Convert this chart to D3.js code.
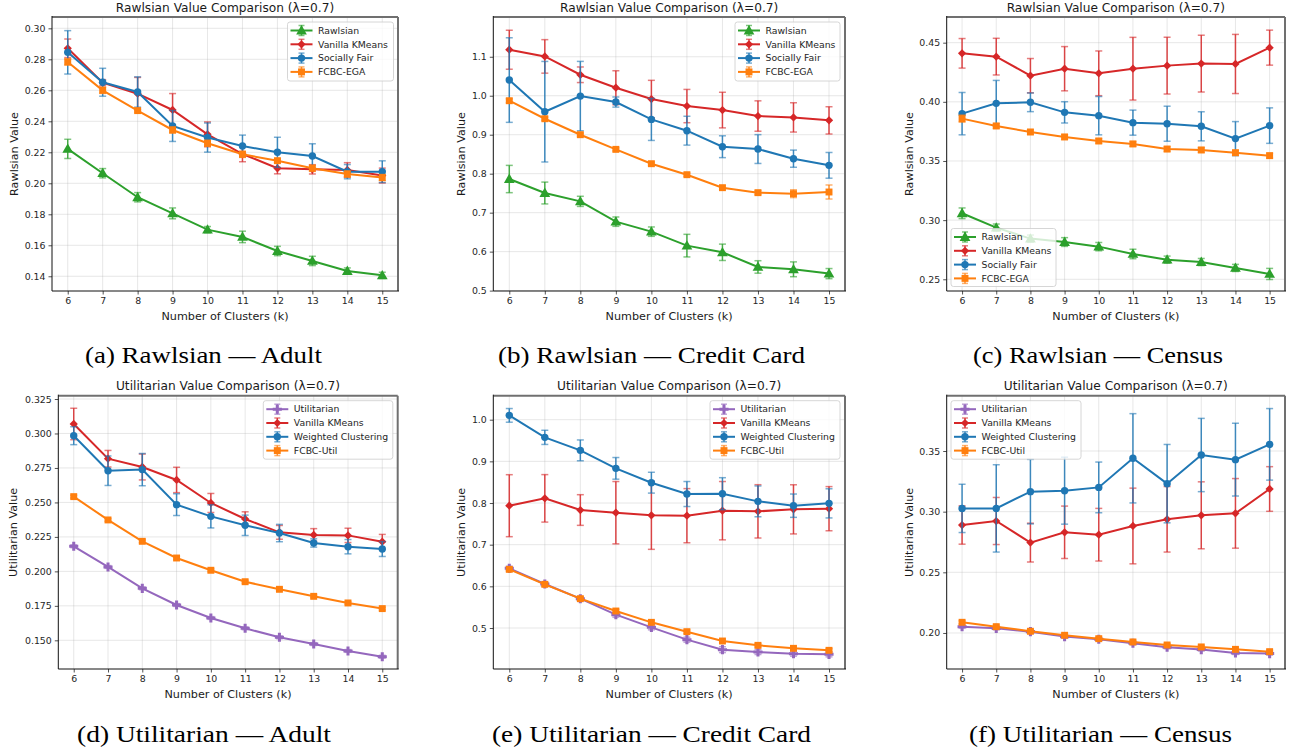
<!DOCTYPE html>
<html><head><meta charset="utf-8">
<script src="https://cdn.jsdelivr.net/npm/d3@7"></script>
<style>body{margin:0;background:#fff}text{font-family:"DejaVu Sans",sans-serif}</style>
</head><body><svg id="c" width="1296" height="748"></svg>
<script>
// ---------- DATA ----------
const ks = [6, 7, 8, 9, 10, 11, 12, 13, 14, 15];

// (a) Rawlsian — Adult
const adultR_rawlsian = [0.2222, 0.2065, 0.1910, 0.1806, 0.1701, 0.1654, 0.1563, 0.1499, 0.1434, 0.1406];
const adultR_rawlsianErr = [0.0062, 0.0030, 0.0030, 0.0035, 0.0020, 0.0037, 0.0030, 0.0030, 0.0020, 0.0020];
const adultR_vanilla = [0.2871, 0.2649, 0.2578, 0.2473, 0.2316, 0.2189, 0.2097, 0.2090, 0.2086, 0.2050];
const adultR_vanillaErr = [0.0060, 0.0020, 0.0105, 0.0106, 0.0080, 0.0050, 0.0036, 0.0030, 0.0047, 0.0048];
const adultR_fair = [0.2845, 0.2652, 0.2589, 0.2370, 0.2295, 0.2241, 0.2200, 0.2176, 0.2075, 0.2075];
const adultR_fairErr = [0.0140, 0.0090, 0.0098, 0.0100, 0.0094, 0.0070, 0.0097, 0.0079, 0.0046, 0.0070];
const adultR_fcbc = [0.2783, 0.2600, 0.2469, 0.2344, 0.2258, 0.2187, 0.2146, 0.2097, 0.2060, 0.2037];
const adultR_fcbcErr = [0.0020, 0.0020, 0.0010, 0.0020, 0.0020, 0.0020, 0.0010, 0.0020, 0.0020, 0.0020];

// (b) Rawlsian — Credit Card
const creditR_rawlsian = [0.7863, 0.7504, 0.7290, 0.6769, 0.6513, 0.6154, 0.5983, 0.5607, 0.5547, 0.5436];
const creditR_rawlsianErr = [0.035, 0.028, 0.013, 0.012, 0.012, 0.029, 0.021, 0.016, 0.019, 0.013];
const creditR_vanilla = [1.1180, 1.1009, 1.0538, 1.0205, 0.9915, 0.9735, 0.9632, 0.9479, 0.9444, 0.9368];
const creditR_vanillaErr = [0.050, 0.043, 0.020, 0.0436, 0.048, 0.0427, 0.0457, 0.039, 0.0376, 0.035];
const creditR_fair = [1.0402, 0.9590, 0.9991, 0.9838, 0.9393, 0.9103, 0.8692, 0.8632, 0.8385, 0.8214];
const creditR_fairErr = [0.1085, 0.129, 0.089, 0.013, 0.054, 0.037, 0.028, 0.037, 0.022, 0.033];
const creditR_fcbc = [0.9872, 0.9410, 0.9000, 0.8624, 0.8256, 0.7974, 0.7641, 0.7513, 0.7487, 0.7530];
const creditR_fcbcErr = [0.005, 0.004, 0.004, 0.004, 0.004, 0.004, 0.005, 0.005, 0.010, 0.018];

// (c) Rawlsian — Census
const censusR_rawlsian = [0.3058, 0.2937, 0.2844, 0.2815, 0.2776, 0.2714, 0.2666, 0.2646, 0.2596, 0.2545];
const censusR_rawlsianErr = [0.0045, 0.0030, 0.0030, 0.0037, 0.0035, 0.0040, 0.0030, 0.0030, 0.0030, 0.0047];
const censusR_vanilla = [0.4410, 0.4382, 0.4221, 0.4280, 0.4241, 0.4280, 0.4306, 0.4323, 0.4320, 0.4458];
const censusR_vanillaErr = [0.0125, 0.0155, 0.0145, 0.0187, 0.0189, 0.0265, 0.0240, 0.0240, 0.0250, 0.0148];
const censusR_fair = [0.3900, 0.3987, 0.3996, 0.3911, 0.3883, 0.3824, 0.3815, 0.3793, 0.3689, 0.3799];
const censusR_fairErr = [0.0179, 0.0194, 0.0079, 0.0090, 0.0162, 0.0106, 0.0148, 0.0123, 0.0144, 0.0150];
const censusR_fcbc = [0.3858, 0.3796, 0.3745, 0.3703, 0.3669, 0.3644, 0.3601, 0.3593, 0.3570, 0.3545];
const censusR_fcbcErr = [0.0030, 0.0020, 0.0020, 0.0020, 0.0020, 0.0020, 0.0020, 0.0020, 0.0020, 0.0020];

// (d) Utilitarian — Adult
const adultU_util = [0.2182, 0.2032, 0.1877, 0.1756, 0.1662, 0.1587, 0.1522, 0.1473, 0.1423, 0.1381];
const adultU_utilErr = [0.0010, 0.0010, 0.0010, 0.0010, 0.0010, 0.0010, 0.0010, 0.0010, 0.0010, 0.0010];
const adultU_vanilla = [0.3069, 0.2817, 0.2757, 0.2663, 0.2496, 0.2380, 0.2283, 0.2264, 0.2261, 0.2215];
const adultU_vanillaErr = [0.0114, 0.0060, 0.0094, 0.0092, 0.0069, 0.0052, 0.0050, 0.0046, 0.0052, 0.0053];
const adultU_weighted = [0.2984, 0.2730, 0.2738, 0.2484, 0.2399, 0.2334, 0.2278, 0.2206, 0.2179, 0.2162];
const adultU_weightedErr = [0.0065, 0.0107, 0.0117, 0.0079, 0.0084, 0.0074, 0.0063, 0.0030, 0.0052, 0.0054];
const adultU_fcbc = [0.2542, 0.2373, 0.2218, 0.2097, 0.2008, 0.1925, 0.1870, 0.1819, 0.1771, 0.1730];
const adultU_fcbcErr = [0.0010, 0.0010, 0.0010, 0.0010, 0.0010, 0.0010, 0.0010, 0.0010, 0.0010, 0.0010];

// (e) Utilitarian — Credit Card
const creditU_util = [0.6432, 0.6056, 0.5704, 0.5320, 0.5016, 0.4720, 0.4480, 0.4424, 0.4384, 0.4368];
const creditU_utilErr = [0.005, 0.004, 0.004, 0.006, 0.006, 0.006, 0.007, 0.006, 0.006, 0.006];
const creditU_vanilla = [0.7936, 0.8112, 0.7832, 0.7768, 0.7704, 0.7696, 0.7816, 0.7800, 0.7848, 0.7864];
const creditU_vanillaErr = [0.0744, 0.057, 0.0368, 0.0748, 0.0816, 0.065, 0.070, 0.064, 0.059, 0.053];
const creditU_weighted = [1.0104, 0.9576, 0.9264, 0.8832, 0.8488, 0.8216, 0.8224, 0.8040, 0.7936, 0.7992];
const creditU_weightedErr = [0.0164, 0.017, 0.025, 0.026, 0.025, 0.030, 0.0384, 0.037, 0.028, 0.035];
const creditU_fcbc = [0.6408, 0.6048, 0.5704, 0.5408, 0.5136, 0.4912, 0.4688, 0.4584, 0.4512, 0.4464];
const creditU_fcbcErr = [0.004, 0.004, 0.004, 0.004, 0.004, 0.004, 0.004, 0.004, 0.004, 0.004];

// (f) Utilitarian — Census
const censusU_util = [0.2052, 0.2038, 0.2011, 0.1970, 0.1948, 0.1915, 0.1882, 0.1863, 0.1835, 0.1830];
const censusU_utilErr = [0.0012, 0.0012, 0.0012, 0.0012, 0.0012, 0.0012, 0.0012, 0.0012, 0.0012, 0.0012];
const censusU_vanilla = [0.2890, 0.2923, 0.2745, 0.2830, 0.2810, 0.2882, 0.2937, 0.2970, 0.2986, 0.3187];
const censusU_vanillaErr = [0.0158, 0.0194, 0.0160, 0.0216, 0.0217, 0.0312, 0.0270, 0.0276, 0.0287, 0.0184];
const censusU_weighted = [0.3027, 0.3027, 0.3165, 0.3173, 0.3200, 0.3440, 0.3231, 0.3467, 0.3429, 0.3555];
const censusU_weightedErr = [0.0199, 0.0360, 0.0266, 0.0276, 0.0209, 0.0368, 0.0323, 0.0302, 0.0300, 0.0295];
const censusU_fcbc = [0.2088, 0.2052, 0.2014, 0.1981, 0.1953, 0.1926, 0.1901, 0.1885, 0.1865, 0.1846];
const censusU_fcbcErr = [0.0012, 0.0012, 0.0012, 0.0012, 0.0012, 0.0012, 0.0012, 0.0012, 0.0012, 0.0012];

// Tick labels
const yTicksA = [0.14, 0.16, 0.18, 0.20, 0.22, 0.24, 0.26, 0.28, 0.30];
const yTicksB = [0.5, 0.6, 0.7, 0.8, 0.9, 1.0, 1.1];
const yTicksC = [0.25, 0.30, 0.35, 0.40, 0.45];
const yTicksD = [0.150, 0.175, 0.200, 0.225, 0.250, 0.275, 0.300, 0.325];
const yTicksE = [0.5, 0.6, 0.7, 0.8, 0.9, 1.0];
const yTicksF = [0.20, 0.25, 0.30, 0.35];

const rawlsNames = ["Rawlsian", "Vanilla KMeans", "Socially Fair", "FCBC-EGA"];
const utilNames = ["Utilitarian", "Vanilla KMeans", "Weighted Clustering", "FCBC-Util"];
const captions = ["(a) Rawlsian — Adult", "(b) Rawlsian — Credit Card", "(c) Rawlsian — Census",
                  "(d) Utilitarian — Adult", "(e) Utilitarian — Credit Card", "(f) Utilitarian — Census"];

// ---------- STYLE / LAYOUT ----------
const C = {blue:"#1f77b4", orange:"#ff7f0e", green:"#2ca02c", red:"#d62728", purple:"#9467bd"};
const rawlsStyle = [{c:C.green, m:"tri"}, {c:C.red, m:"dia"}, {c:C.blue, m:"cir"}, {c:C.orange, m:"sq"}];
const utilStyle  = [{c:C.purple, m:"plus"}, {c:C.red, m:"dia"}, {c:C.blue, m:"cir"}, {c:C.orange, m:"sq"}];

const panels = [
  {x0:52, x1:398, y0:17, y1:291, yd:[0.1305,0.3073], ticks:yTicksA, fmt:".2f", title:"Rawlsian Value Comparison (λ=0.7)", ylab:"Rawlsian Value", ylx:14,
   names:rawlsNames, style:rawlsStyle, cap:captions[0], capx:203.5, capw:237,
   series:[[adultR_rawlsian,adultR_rawlsianErr],[adultR_vanilla,adultR_vanillaErr],[adultR_fair,adultR_fairErr],[adultR_fcbc,adultR_fcbcErr]],
   leg:{x:287.5, y:22, w:106, h:59}},
  {x0:493.3, x1:845, y0:17, y1:291, yd:[0.499,1.202], ticks:yTicksB, fmt:".1f", title:"Rawlsian Value Comparison (λ=0.7)", ylab:"Rawlsian Value", ylx:461.5,
   names:rawlsNames, style:rawlsStyle, cap:captions[1], capx:651.5, capw:307,
   series:[[creditR_rawlsian,creditR_rawlsianErr],[creditR_vanilla,creditR_vanillaErr],[creditR_fair,creditR_fairErr],[creditR_fcbc,creditR_fcbcErr]],
   leg:{x:735, y:22, w:105, h:59}},
  {x0:946.7, x1:1285, y0:17, y1:291, yd:[0.2401,0.4717], ticks:yTicksC, fmt:".2f", title:"Rawlsian Value Comparison (λ=0.7)", ylab:"Rawlsian Value", ylx:909,
   names:rawlsNames, style:rawlsStyle, cap:captions[2], capx:1098, capw:250,
   series:[[censusR_rawlsian,censusR_rawlsianErr],[censusR_vanilla,censusR_vanillaErr],[censusR_fair,censusR_fairErr],[censusR_fcbc,censusR_fcbcErr]],
   leg:{x:951, y:228.5, w:105, h:58}},
  {x0:58.3, x1:397.7, y0:395.7, y1:669, yd:[0.1292,0.3274], ticks:yTicksD, fmt:".3f", title:"Utilitarian Value Comparison (λ=0.7)", ylab:"Utilitarian Value", ylx:13.5,
   names:utilNames, style:utilStyle, cap:captions[3], capx:204, capw:254,
   series:[[adultU_util,adultU_utilErr],[adultU_vanilla,adultU_vanillaErr],[adultU_weighted,adultU_weightedErr],[adultU_fcbc,adultU_fcbcErr]],
   leg:{x:263.3, y:400.7, w:129.5, h:58.5}},
  {x0:493.3, x1:845, y0:395.7, y1:669, yd:[0.4016,1.0576], ticks:yTicksE, fmt:".1f", title:"Utilitarian Value Comparison (λ=0.7)", ylab:"Utilitarian Value", ylx:461.5,
   names:utilNames, style:utilStyle, cap:captions[4], capx:651.5, capw:319,
   series:[[creditU_util,creditU_utilErr],[creditU_vanilla,creditU_vanillaErr],[creditU_weighted,creditU_weightedErr],[creditU_fcbc,creditU_fcbcErr]],
   leg:{x:710, y:400.7, w:130, h:58.5}},
  {x0:946.7, x1:1285, y0:395.7, y1:669, yd:[0.1703,0.3956], ticks:yTicksF, fmt:".2f", title:"Utilitarian Value Comparison (λ=0.7)", ylab:"Utilitarian Value", ylx:909,
   names:utilNames, style:utilStyle, cap:captions[5], capx:1100.5, capw:263,
   series:[[censusU_util,censusU_utilErr],[censusU_vanilla,censusU_vanillaErr],[censusU_weighted,censusU_weightedErr],[censusU_fcbc,censusU_fcbcErr]],
   leg:{x:951, y:400.7, w:130, h:58.5}}
];

const svg = d3.select("#c");

function marker(g, type, x, y, color) {
  let s;
  if (type === "tri") s = g.append("path").attr("d", d3.symbol(d3.symbolTriangle, 50)()).attr("transform", `translate(${x},${y+0.8})`);
  else if (type === "dia") s = g.append("path").attr("d", d3.symbol(d3.symbolSquare, 34)()).attr("transform", `translate(${x},${y}) rotate(45)`);
  else if (type === "cir") s = g.append("circle").attr("cx", x).attr("cy", y).attr("r", 3.7);
  else if (type === "sq") s = g.append("path").attr("d", d3.symbol(d3.symbolSquare, 48)()).attr("transform", `translate(${x},${y})`);
  else s = g.append("path").attr("d", d3.symbol(d3.symbolCross, 46)()).attr("transform", `translate(${x},${y})`);
  s.attr("fill", color).attr("stroke", "none");
}

panels.forEach(p => {
  const g = svg.append("g");
  const x = d3.scaleLinear().domain([5.55, 15.45]).range([p.x0, p.x1]);
  const y = d3.scaleLinear().domain(p.yd).range([p.y1, p.y0]);

  // grid
  g.append("g").selectAll("line").data(ks).join("line")
    .attr("x1", d => x(d)).attr("x2", d => x(d)).attr("y1", p.y0).attr("y2", p.y1)
    .attr("stroke", "#b0b0b0").attr("stroke-opacity", 0.3).attr("stroke-width", 1);
  g.append("g").selectAll("line").data(p.ticks).join("line")
    .attr("x1", p.x0).attr("x2", p.x1).attr("y1", d => y(d)).attr("y2", d => y(d))
    .attr("stroke", "#b0b0b0").attr("stroke-opacity", 0.3).attr("stroke-width", 1);

  // axes
  const ax = g.append("g").attr("transform", `translate(0,${p.y1})`)
    .call(d3.axisBottom(x).tickValues(ks).tickFormat(d3.format("d")).tickSize(3.5).tickPadding(3));
  const ay = g.append("g").attr("transform", `translate(${p.x0},0)`)
    .call(d3.axisLeft(y).tickValues(p.ticks).tickFormat(d3.format(p.fmt)).tickSize(3.5).tickPadding(3));
  [ax, ay].forEach(a => {
    a.select(".domain").remove();
    a.selectAll("text").attr("font-family", "DejaVu Sans").attr("font-size", 9.4).attr("fill", "#262626");
    a.selectAll("line").attr("stroke", "#262626").attr("stroke-width", 0.8);
  });

  // series
  p.series.forEach((s, i) => {
    const st = p.style[i];
    const vals = s[0], errs = s[1];
    const sg = g.append("g");
    ks.forEach((k, j) => {
      const cx = x(k), yt = y(vals[j] + errs[j]), yb = y(vals[j] - errs[j]);
      sg.append("line").attr("x1", cx).attr("x2", cx).attr("y1", yt).attr("y2", yb)
        .attr("stroke", st.c).attr("stroke-width", 1.5).attr("stroke-opacity", 0.85);
      [yt, yb].forEach(yy => sg.append("line").attr("x1", cx - 3.5).attr("x2", cx + 3.5).attr("y1", yy).attr("y2", yy)
        .attr("stroke", st.c).attr("stroke-width", 1.5).attr("stroke-opacity", 0.6));
    });
    sg.append("path").datum(vals)
      .attr("d", d3.line().x((d, j) => x(ks[j])).y(d => y(d)))
      .attr("fill", "none").attr("stroke", st.c).attr("stroke-width", 2);
    vals.forEach((v, j) => marker(sg, st.m, x(ks[j]), y(v), st.c));
  });

  // spines
  g.append("line").attr("x1", p.x0).attr("x2", p.x1).attr("y1", p.y0).attr("y2", p.y0).attr("stroke", "#707070").attr("stroke-width", 2);
  g.append("line").attr("x1", p.x1).attr("x2", p.x1).attr("y1", p.y0).attr("y2", p.y1).attr("stroke", "#707070").attr("stroke-width", 2);
  g.append("line").attr("x1", p.x0).attr("x2", p.x0).attr("y1", p.y0 - 1).attr("y2", p.y1).attr("stroke", "#111").attr("stroke-width", 1);
  g.append("line").attr("x1", p.x0).attr("x2", p.x1 + 1).attr("y1", p.y1).attr("y2", p.y1).attr("stroke", "#111").attr("stroke-width", 1);

  // legend
  const L = p.leg;
  const lg = g.append("g");
  lg.append("rect").attr("x", L.x).attr("y", L.y).attr("width", L.w).attr("height", L.h).attr("rx", 2.5)
    .attr("fill", "#fff").attr("fill-opacity", 0.8).attr("stroke", "#cccccc").attr("stroke-width", 0.8);
  p.names.forEach((n, i) => {
    const st = p.style[i];
    const ry = L.y + 8.5 + i * 13.8;
    const hx0 = L.x + 3, hx1 = L.x + 25, hm = (hx0 + hx1) / 2;
    lg.append("line").attr("x1", hx0).attr("x2", hx1).attr("y1", ry).attr("y2", ry).attr("stroke", st.c).attr("stroke-width", 2);
    lg.append("line").attr("x1", hm).attr("x2", hm).attr("y1", ry - 5).attr("y2", ry + 5).attr("stroke", st.c).attr("stroke-width", 1.5).attr("stroke-opacity", 0.85);
    [ry - 5, ry + 5].forEach(yy => lg.append("line").attr("x1", hm - 3).attr("x2", hm + 3).attr("y1", yy).attr("y2", yy).attr("stroke", st.c).attr("stroke-width", 1.5).attr("stroke-opacity", 0.6));
    marker(lg, st.m, hm, ry, st.c);
    lg.append("text").attr("x", L.x + 30.5).attr("y", ry).attr("dy", "0.35em")
      .attr("font-size", 9.3).attr("fill", "#262626").text(n);
  });

  // titles/labels
  g.append("text").attr("x", (p.x0 + p.x1) / 2).attr("y", p.y0 - 5.5).attr("text-anchor", "middle")
    .attr("font-size", 12.2).attr("fill", "#1a1a1a").text(p.title);
  g.append("text").attr("x", (p.x0 + p.x1) / 2).attr("y", p.y1 + 28.5).attr("text-anchor", "middle")
    .attr("font-size", 11.2).attr("fill", "#1a1a1a").text("Number of Clusters (k)");
  g.append("text").attr("transform", `translate(${p.ylx},${(p.y0 + p.y1) / 2}) rotate(-90)`).attr("dy", "0.35em")
    .attr("text-anchor", "middle").attr("font-size", 11.2).attr("fill", "#1a1a1a").text(p.ylab);
  g.append("text").attr("x", p.capx).attr("y", p.y0 + 346).attr("text-anchor", "middle")
    .attr("textLength", p.capw).attr("lengthAdjust", "spacingAndGlyphs")
    .style("font-family", "'Liberation Serif', serif").attr("font-size", 23).attr("fill", "#000").text(p.cap);
});
</script></body></html>
